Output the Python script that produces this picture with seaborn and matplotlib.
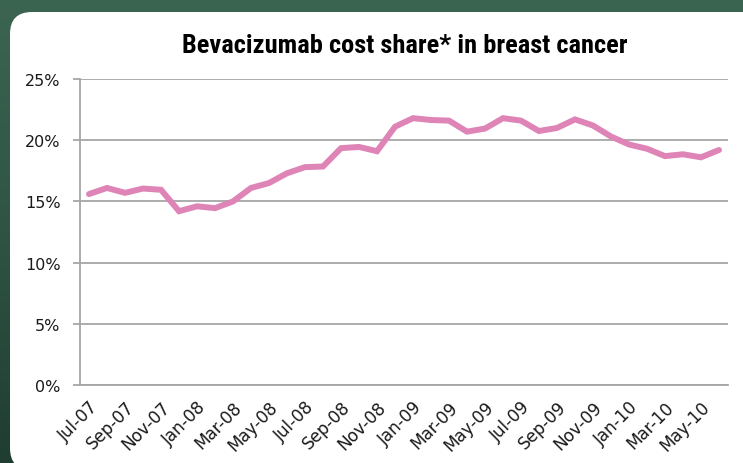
import numpy as np
import pandas as pd
import matplotlib
matplotlib.use("Agg")
import matplotlib.pyplot as plt
from matplotlib.patches import FancyBboxPatch
from matplotlib.colors import LinearSegmentedColormap
from matplotlib import font_manager
import seaborn as sns

months = ["Jul-07", "Aug-07", "Sep-07", "Oct-07", "Nov-07", "Dec-07",
          "Jan-08", "Feb-08", "Mar-08", "Apr-08", "May-08", "Jun-08",
          "Jul-08", "Aug-08", "Sep-08", "Oct-08", "Nov-08", "Dec-08",
          "Jan-09", "Feb-09", "Mar-09", "Apr-09", "May-09", "Jun-09",
          "Jul-09", "Aug-09", "Sep-09", "Oct-09", "Nov-09", "Dec-09",
          "Jan-10", "Feb-10", "Mar-10", "Apr-10", "May-10", "Jun-10"]
share = [15.6, 16.1, 15.7, 16.05, 15.95, 14.2, 14.6, 14.45, 15.0, 16.1,
         16.5, 17.3, 17.8, 17.85, 19.35, 19.45, 19.1, 21.1, 21.8, 21.65,
         21.6, 20.7, 20.95, 21.8, 21.6, 20.75, 21.0, 21.7, 21.2, 20.3,
         19.65, 19.3, 18.7, 18.85, 18.6, 19.2]
title = "Bevacizumab cost share* in breast cancer"
yticks = [0, 5, 10, 15, 20, 25]

sns.set_theme(style="white")
plt.rcParams['font.family'] = ['DejaVu Sans']

W, H = 743, 464
fig = plt.figure(figsize=(W / 100, H / 100), dpi=100)

# chalkboard background
bg = fig.add_axes([0, 0, 1, 1])
bg.set_axis_off()
grad = np.linspace(0, 1, 256).reshape(-1, 1)
cmap = LinearSegmentedColormap.from_list("g", ["#3c6551", "#2f5444", "#1f3d31"])
bg.imshow(grad, aspect="auto", cmap=cmap, extent=[0, W, H, 0])
bg.set_xlim(0, W)
bg.set_ylim(H, 0)
panel = FancyBboxPatch((10, 13), W + 40, 458,
                       boxstyle="round,pad=0,rounding_size=22",
                       facecolor="white", edgecolor="none")
bg.add_patch(panel)

# title font: prefer a condensed bold family
avail = {f.name for f in font_manager.fontManager.ttflist}
tfam = [f for f in ["Liberation Sans Narrow", "DejaVu Sans Condensed",
                    "Roboto Condensed", "Open Sans Condensed", "Liberation Sans"]
        if f in avail] + ["DejaVu Sans"]
fig.text(405 / W, 1 - 53 / H, title, ha="center", va="baseline",
         fontsize=19, fontweight="bold", family=tfam, color="black")

left, right, top, bottom = 80, 728, 80, 386
ax = fig.add_axes([left / W, 1 - bottom / H, (right - left) / W, (bottom - top) / H])
ax.patch.set_alpha(0)

df = pd.DataFrame({"pos": np.arange(len(months)), "share": share})
sns.lineplot(data=df, x="pos", y="share", ax=ax, color="#de84b7",
             linewidth=4.3, solid_joinstyle="miter", solid_capstyle="round")

ax.set_xlim(-0.5, len(months) - 0.5)
ax.set_ylim(0, 25)
ax.set_yticks(yticks)
ax.set_yticklabels([f"{v}%" for v in yticks], fontsize=11.5, color="#1a1a1a",
                   family="DejaVu Sans")
ax.yaxis.grid(True, color="#a6a6a6", linewidth=1.3)
ax.set_axisbelow(True)

ax.set_xticks(np.arange(0, len(months), 2))
ax.set_xticklabels(months[::2], rotation=45, ha="right", rotation_mode="anchor",
                   fontsize=12.2, color="#1a1a1a", family="DejaVu Sans")
ax.set_xticks(np.arange(-0.5, len(months), 1), minor=True)
ax.tick_params(axis="x", which="major", length=0, pad=9)
ax.tick_params(axis="x", which="minor", length=4, width=1, color="#a6a6a6", direction="out")
ax.tick_params(axis="y", length=5, width=1.3, color="#a6a6a6", direction="out", pad=9)
ax.tick_params(axis="both", bottom=True, left=True)

for s in ["top", "right"]:
    ax.spines[s].set_visible(False)
for s in ["left", "bottom"]:
    ax.spines[s].set_color("#a6a6a6")
    ax.spines[s].set_linewidth(1.3)
ax.set_xlabel("")
ax.set_ylabel("")

fig.savefig("out.png", dpi=100)
